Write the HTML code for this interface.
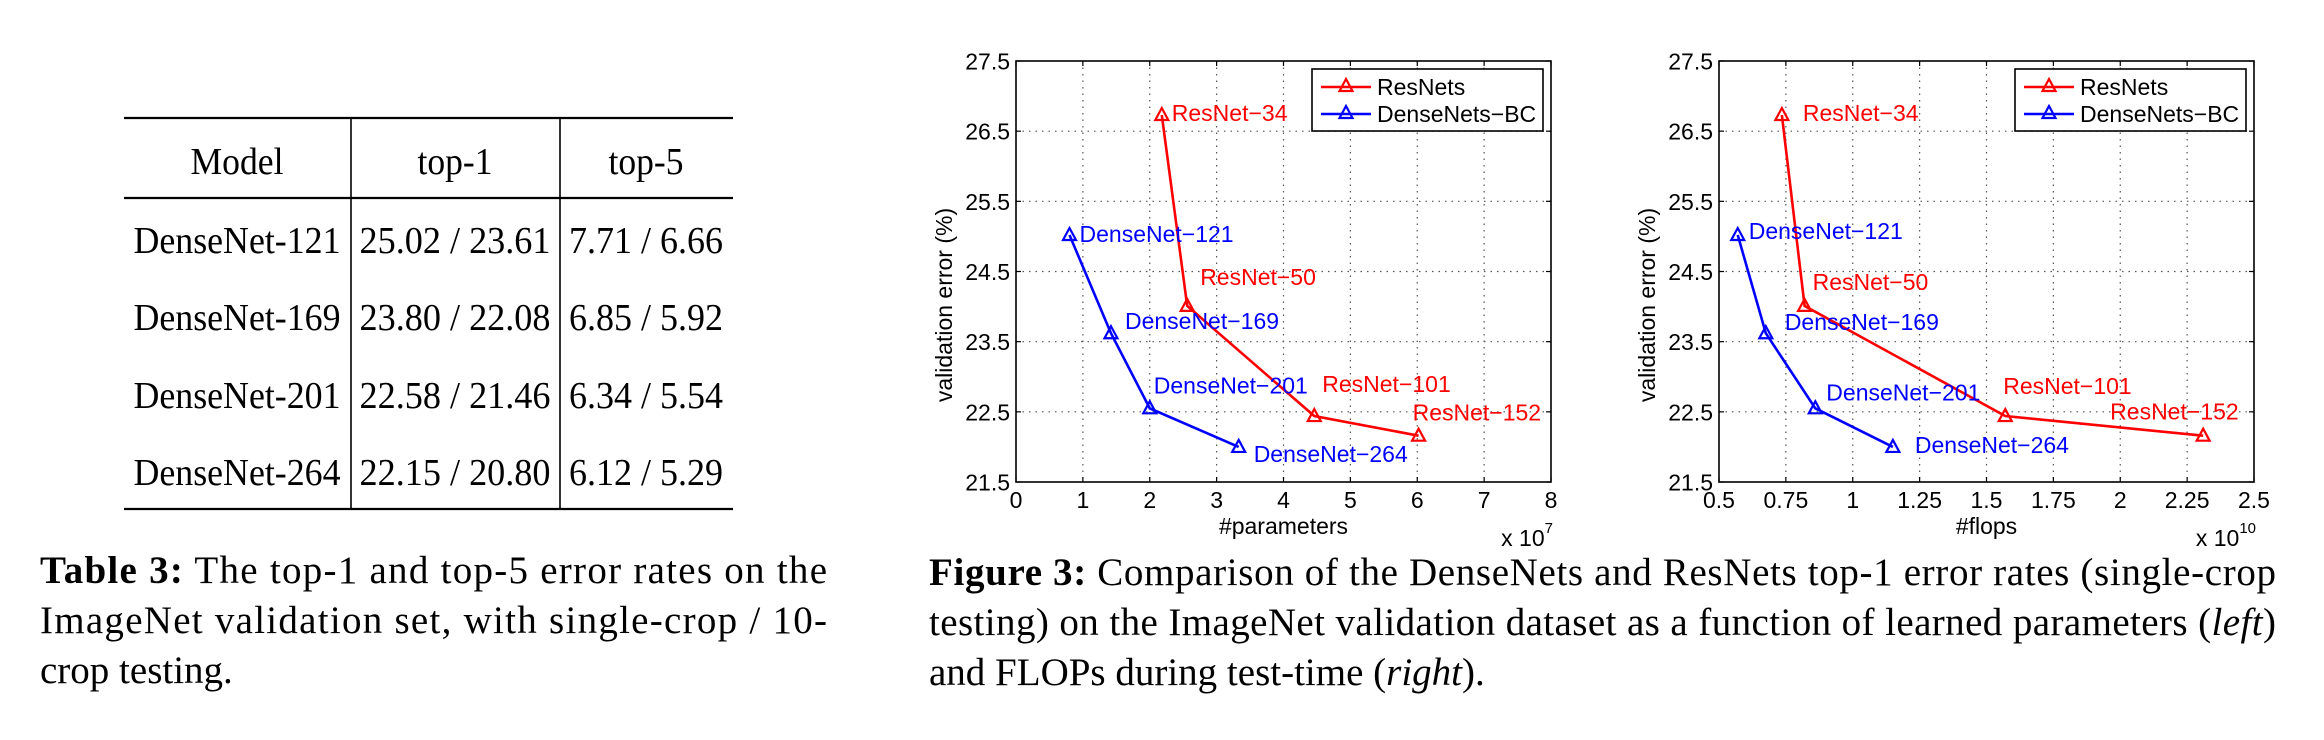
<!DOCTYPE html>
<html><head><meta charset="utf-8">
<style>
html,body{margin:0;padding:0;background:#fff;}
svg{display:block;}
</style></head>
<body>
<svg id="root" width="2324" height="740" viewBox="0 0 2324 740" xmlns="http://www.w3.org/2000/svg">
  <g id="table" font-family="'Liberation Serif', serif" font-size="38" fill="#000">
    <line x1="124" y1="118" x2="733" y2="118" stroke="#000" stroke-width="2.2"/>
    <line x1="124" y1="198" x2="733" y2="198" stroke="#000" stroke-width="2.2"/>
    <line x1="124" y1="509" x2="733" y2="509" stroke="#000" stroke-width="2.2"/>
    <line x1="351" y1="118" x2="351" y2="509" stroke="#000" stroke-width="1.6"/>
    <line x1="560" y1="118" x2="560" y2="509" stroke="#000" stroke-width="1.6"/>
    <text x="237" y="174" text-anchor="middle" textLength="93" lengthAdjust="spacingAndGlyphs">Model</text>
    <text x="455" y="174" text-anchor="middle" textLength="75" lengthAdjust="spacingAndGlyphs">top-1</text>
    <text x="646" y="174" text-anchor="middle" textLength="75" lengthAdjust="spacingAndGlyphs">top-5</text>
  </g>
  <g font-family="'Liberation Serif', serif" font-size="39" fill="#000">
    <text x="40" y="583" textLength="787" lengthAdjust="spacing"><tspan font-weight="bold">Table 3:</tspan> The top-1 and top-5 error rates on the</text>
    <text x="40" y="633" textLength="787" lengthAdjust="spacing">ImageNet validation set, with single-crop / 10-</text>
    <text x="40" y="683">crop testing.</text>
  </g>
  <g font-family="'Liberation Serif', serif" font-size="39" fill="#000">
    <text x="929" y="585" textLength="1347" lengthAdjust="spacing"><tspan font-weight="bold">Figure 3:</tspan> Comparison of the DenseNets and ResNets top-1 error rates (single-crop</text>
    <text x="929" y="635" textLength="1347" lengthAdjust="spacing">testing) on the ImageNet validation dataset as a function of learned parameters (<tspan font-style="italic">left</tspan>)</text>
    <text x="929" y="685">and FLOPs during test-time (<tspan font-style="italic">right</tspan>).</text>
  </g>
  <g id="chart1"></g>
  <g id="chart2"></g>
</svg>
<script>
// ---- Table data ----
const tableModels = ["DenseNet-121", "DenseNet-169", "DenseNet-201", "DenseNet-264"];
const tableTop1 = ["25.02 / 23.61", "23.80 / 22.08", "22.58 / 21.46", "22.15 / 20.80"];
const tableTop5 = ["7.71 / 6.66", "6.85 / 5.92", "6.34 / 5.54", "6.12 / 5.29"];

// ---- Chart data ----
const resnetNames = ["ResNet\u221234", "ResNet\u221250", "ResNet\u2212101", "ResNet\u2212152"];
const densenetNames = ["DenseNet\u2212121", "DenseNet\u2212169", "DenseNet\u2212201", "DenseNet\u2212264"];
const resnetError = [26.73, 24.01, 22.44, 22.16];
const densenetError = [25.02, 23.62, 22.55, 22.0];
const resnetParams = [2.18, 2.56, 4.46, 6.02];       // x 10^7
const densenetParams = [0.8, 1.42, 2.0, 3.33];       // x 10^7
const resnetFlops = [0.735, 0.82, 1.57, 2.31];       // x 10^10
const densenetFlops = [0.57, 0.675, 0.86, 1.15];     // x 10^10
const yTicks = [21.5, 22.5, 23.5, 24.5, 25.5, 26.5, 27.5];
const yTickLabels = ["21.5", "22.5", "23.5", "24.5", "25.5", "26.5", "27.5"];
const xTicksParams = [0, 1, 2, 3, 4, 5, 6, 7, 8];
const xTickLabelsParams = ["0", "1", "2", "3", "4", "5", "6", "7", "8"];
const xTicksFlops = [0.5, 0.75, 1, 1.25, 1.5, 1.75, 2, 2.25, 2.5];
const xTickLabelsFlops = ["0.5", "0.75", "1", "1.25", "1.5", "1.75", "2", "2.25", "2.5"];
const legendNames = ["ResNets", "DenseNets\u2212BC"];

const NS = "http://www.w3.org/2000/svg";
function mk(parent, tag, attrs, text) {
  const e = document.createElementNS(NS, tag);
  for (const k in attrs) e.setAttribute(k, attrs[k]);
  if (text !== undefined) e.textContent = text;
  parent.appendChild(e);
  return e;
}

const tbl = document.getElementById("table");
const rowY = [253, 330, 408, 485];
tableModels.forEach((m, i) => {
  let t = mk(tbl, "text", {x: 237, y: rowY[i], "text-anchor": "middle", textLength: 207, lengthAdjust: "spacingAndGlyphs"}, m);
  
  
  t = mk(tbl, "text", {x: 455, y: rowY[i], "text-anchor": "middle", textLength: 191, lengthAdjust: "spacingAndGlyphs"}, tableTop1[i]);
  
  
  t = mk(tbl, "text", {x: 646, y: rowY[i], "text-anchor": "middle", textLength: 154, lengthAdjust: "spacingAndGlyphs"}, tableTop5[i]);
  
  
});

function triangle(g, x, y, color) {
  return mk(g, "path", {d: `M${x},${y-7} L${x+6.5},${y+5} L${x-6.5},${y+5} Z`, fill: "none", stroke: color, "stroke-width": 2.2});
}

function drawChart(id, cfg) {
  const g = document.getElementById(id);
  const L = cfg.left, R = cfg.left + 535, T = 61, B = 482;
  const sx = v => L + (v - cfg.xmin) / (cfg.xmax - cfg.xmin) * (R - L);
  const sy = v => B - (v - 21.5) / 6 * (B - T);
  const font = 'font-family:"Liberation Sans",sans-serif;font-size:23px';
  cfg.xticks.forEach((v, i) => {
    const x = sx(v);
    if (i > 0 && i < cfg.xticks.length - 1) {
      const gl = mk(g, "line", {x1: x, y1: T, x2: x, y2: B, stroke: "#555", "stroke-width": 1.2, "stroke-dasharray": "1.5 5"});
      
      
    }
    mk(g, "line", {x1: x, y1: B, x2: x, y2: B - 5, stroke: "#000", "stroke-width": 1.2});
    mk(g, "line", {x1: x, y1: T, x2: x, y2: T + 5, stroke: "#000", "stroke-width": 1.2});
    const tl = mk(g, "text", {x: x, y: B + 26, "text-anchor": "middle", style: font}, cfg.xlabels[i]);
    
    
  });
  yTicks.forEach((v, i) => {
    const y = sy(v);
    if (i > 0 && i < yTicks.length - 1) {
      const gl = mk(g, "line", {x1: L, y1: y, x2: R, y2: y, stroke: "#555", "stroke-width": 1.2, "stroke-dasharray": "1.5 5"});
      
      
    }
    mk(g, "line", {x1: L, y1: y, x2: L + 5, y2: y, stroke: "#000", "stroke-width": 1.2});
    mk(g, "line", {x1: R, y1: y, x2: R - 5, y2: y, stroke: "#000", "stroke-width": 1.2});
    const tl = mk(g, "text", {x: L - 6, y: y + 8.5, "text-anchor": "end", style: font}, yTickLabels[i]);
    
    
  });
  const box = mk(g, "rect", {x: L, y: T, width: R - L, height: B - T, fill: "none", stroke: "#000", "stroke-width": 1.6});
  
  

  const series = [
    {xs: cfg.resX, ys: resnetError, names: resnetNames, color: "#f00", off: cfg.resOff, key: "resnet"},
    {xs: cfg.denX, ys: densenetError, names: densenetNames, color: "#00f", off: cfg.denOff, key: "densenet"}
  ];
  series.forEach(s => {
    const pts = s.xs.map((v, i) => `${sx(v)},${sy(s.ys[i])}`).join(" ");
    const pl = mk(g, "polyline", {points: pts, fill: "none", stroke: s.color, "stroke-width": 2.6});
    
    
    s.xs.forEach((v, i) => {
      const x = sx(v), y = sy(s.ys[i]);
      const m = triangle(g, x, y, s.color);
      
      
      const lb = mk(g, "text", {x: x + s.off[i][0], y: y + s.off[i][1], fill: s.color, style: font}, s.names[i]);
      
      
    });
  });

  const lx = R - 8 - 231, ly = T + 8;
  const lg = mk(g, "g", {});
  
  
  mk(lg, "rect", {x: lx, y: ly, width: 231, height: 62, fill: "#fff", stroke: "#000", "stroke-width": 1.6});
  [["#f00", 18], ["#00f", 45]].forEach((c, i) => {
    const e = mk(lg, "g", {});
    
    
    mk(e, "line", {x1: lx + 9, y1: ly + c[1], x2: lx + 59, y2: ly + c[1], stroke: c[0], "stroke-width": 2.6});
    triangle(e, lx + 34, ly + c[1] - 1, c[0]);
    mk(e, "text", {x: lx + 65, y: ly + c[1] + 8, style: font, fill: "#000"}, legendNames[i]);
  });

  const xt = mk(g, "text", {x: (L + R) / 2, y: B + 52, "text-anchor": "middle", style: font}, cfg.xtitle);
  
  
  const cy = 305, cx = L - 64;
  const yt = mk(g, "text", {x: cx, y: cy, "text-anchor": "middle", transform: `rotate(-90 ${cx} ${cy})`, style: font}, "validation error (%)");
  
  
  const ex = mk(g, "text", {x: R + 2, y: B + 64, "text-anchor": "end", style: font}, "x 10");
  
  
  mk(ex, "tspan", {dy: -13, style: 'font-size:15px'}, cfg.exp);
}

drawChart("chart1", {
  left: 1016, xmin: 0, xmax: 8, xticks: xTicksParams, xlabels: xTickLabelsParams,
  resX: resnetParams, denX: densenetParams, xtitle: "#parameters", exp: "7",
  resOff: [[10, 6], [13, -21], [8, -24], [-6, -15]],
  denOff: [[10, 7], [14, -4], [4, -15], [15, 15]]
});
drawChart("chart2", {
  left: 1719, xmin: 0.5, xmax: 2.5, xticks: xTicksFlops, xlabels: xTickLabelsFlops,
  resX: resnetFlops, denX: densenetFlops, xtitle: "#flops", exp: "10",
  resOff: [[21, 6], [8, -16], [-2, -22], [-93, -16]],
  denOff: [[11, 4], [19, -3], [11, -8], [22, 6]]
});
</script>
</body></html>
